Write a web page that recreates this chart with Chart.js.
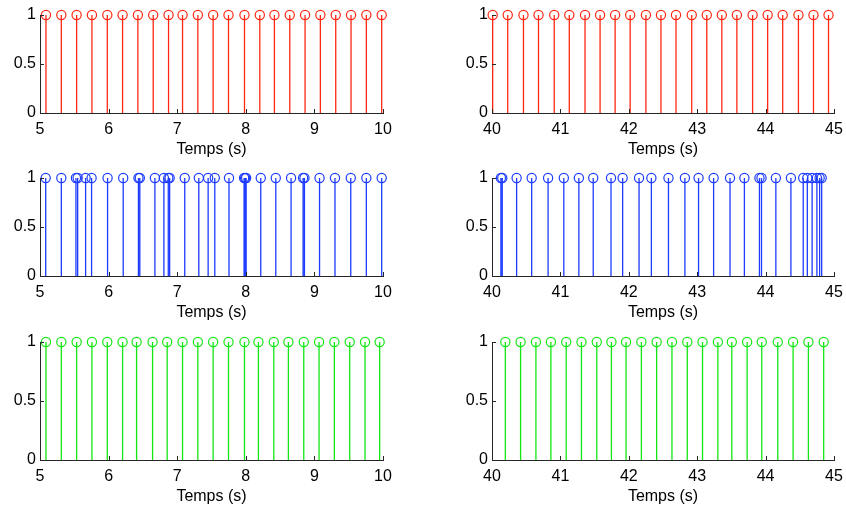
<!DOCTYPE html>
<html><head><meta charset="utf-8">
<script src="https://cdn.jsdelivr.net/npm/chart.js@4.4.1/dist/chart.umd.min.js"></script>
<style>
html,body{margin:0;padding:0;background:#fff}
body{width:846px;height:509px;position:relative;overflow:hidden}
canvas{position:absolute}
</style></head><body>
<canvas id="c0" width="393" height="161" style="left:0px;top:0px;width:393px;height:161px"></canvas>
<canvas id="c1" width="392" height="161" style="left:452px;top:0px;width:392px;height:161px"></canvas>
<canvas id="c2" width="393" height="161" style="left:0px;top:163px;width:393px;height:161px"></canvas>
<canvas id="c3" width="392" height="161" style="left:452px;top:163px;width:392px;height:161px"></canvas>
<canvas id="c4" width="393" height="181" style="left:0px;top:327px;width:393px;height:181px"></canvas>
<canvas id="c5" width="392" height="181" style="left:452px;top:327px;width:392px;height:181px"></canvas>
<script>
// ---- data (times in seconds of each pulse) ----
const redLeft = [5.087, 5.311, 5.534, 5.757, 5.981, 6.204, 6.427, 6.650, 6.874, 7.078, 7.301, 7.524,
                 7.748, 7.981, 8.204, 8.417, 8.641, 8.864, 9.087, 9.311, 9.534, 9.757, 9.981];
const redRight = [40.01, 40.23, 40.46, 40.68, 40.91, 41.13, 41.36, 41.58, 41.80, 42.02, 42.25, 42.47,
                  42.69, 42.92, 43.14, 43.36, 43.58, 43.81, 44.03, 44.25, 44.48, 44.70, 44.92];
const blueLeft = [5.083, 5.311, 5.524, 5.549, 5.665, 5.752, 5.985, 6.213, 6.435, 6.455, 6.675, 6.806,
                  6.870, 6.890, 7.110, 7.315, 7.451, 7.548, 7.755, 7.975, 7.990, 8.005, 8.218, 8.437,
                  8.660, 8.835, 8.855, 9.075, 9.300, 9.530, 9.757, 9.981];
const blueRight = [40.13, 40.15, 40.36, 40.58, 40.82, 41.05, 41.27, 41.48, 41.74, 41.91, 42.15, 42.33,
                   42.58, 42.82, 43.02, 43.24, 43.48, 43.69, 43.91, 43.94, 44.15, 44.37, 44.55, 44.61,
                   44.68, 44.75, 44.79, 44.82];
const greenLeft = [5.087, 5.311, 5.534, 5.757, 5.981, 6.204, 6.408, 6.641, 6.854, 7.078, 7.301, 7.524,
                   7.748, 7.981, 8.184, 8.408, 8.621, 8.845, 9.068, 9.291, 9.515, 9.738, 9.951];
const greenRight = [40.195, 40.418, 40.642, 40.861, 41.085, 41.308, 41.532, 41.746, 41.960, 42.184, 42.407,
                    42.631, 42.855, 43.078, 43.302, 43.506, 43.730, 43.944, 44.178, 44.402, 44.626, 44.849];
const pulseAmplitude = 1;
const xTicksLeft = [5, 6, 7, 8, 9, 10];
const xTicksRight = [40, 41, 42, 43, 44, 45];
const yTicks = [0, 0.5, 1];
const xTitle = 'Temps (s)';

const FONT = {family: '"Liberation Sans", Arial, Helvetica, sans-serif', size: 16};
const AXIS_COLOR = '#262626';

const inwardTicks = {
  id: 'inwardTicks',
  afterDraw(chart) {
    const ctx = chart.ctx, xs = chart.scales.x, ys = chart.scales.y;
    const a = chart.chartArea;
    ctx.save();
    ctx.strokeStyle = AXIS_COLOR;
    ctx.lineWidth = 1;
    ctx.beginPath();
    xs.ticks.forEach(t => {
      const px = Math.round(xs.getPixelForValue(t.value)) + 0.5;
      ctx.moveTo(px, a.bottom);
      ctx.lineTo(px, a.bottom - 4);
    });
    ys.ticks.forEach(t => {
      const py = Math.round(ys.getPixelForValue(t.value)) + 0.5;
      ctx.moveTo(a.left, py);
      ctx.lineTo(a.left + 4, py);
    });
    ctx.stroke();
    ctx.restore();
  }
};

function makeChart(id, times, color, xTicks) {
  const stems = [];
  times.forEach(t => {
    stems.push({x: t, y: 0}, {x: t, y: pulseAmplitude}, {x: t, y: null});
  });
  const heads = times.map(t => ({x: t, y: pulseAmplitude}));
  return new Chart(document.getElementById(id), {
    type: 'scatter',
    data: {datasets: [
      {type: 'line', data: stems, borderColor: color, borderWidth: 1.3, pointRadius: 0,
       spanGaps: false, fill: false, tension: 0, clip: false},
      {type: 'scatter', data: heads, borderColor: color, backgroundColor: 'rgba(0,0,0,0)',
       pointRadius: 4.6, pointBorderWidth: 1.2, pointStyle: 'circle', clip: false}
    ]},
    options: {
      responsive: false, animation: false, events: [],
      layout: {padding: {top: 15, right: 10, left: 0, bottom: 0}},
      plugins: {legend: {display: false}, tooltip: {enabled: false}},
      scales: {
        x: {
          type: 'linear', min: xTicks[0], max: xTicks[xTicks.length - 1], offset: false,
          grid: {display: false, drawTicks: false},
          border: {display: true, color: AXIS_COLOR, width: 1},
          ticks: {padding: 7, color: '#000', font: FONT, maxRotation: 0, autoSkip: false,
                  callback: v => String(v)},
          afterBuildTicks: s => { s.ticks = xTicks.map(v => ({value: v})); },
          afterFit: s => { s.height = 48; s.paddingLeft = 0; s.paddingRight = 0; },
          title: {display: true, text: xTitle, color: '#000', font: FONT, padding: {top: 0, bottom: 2}}
        },
        y: {
          type: 'linear', min: 0, max: 1,
          grid: {display: false, drawTicks: false},
          border: {display: true, color: AXIS_COLOR, width: 1},
          ticks: {padding: 4, color: '#000', font: FONT, callback: v => String(v)},
          afterBuildTicks: s => { s.ticks = yTicks.map(v => ({value: v})); },
          afterFit: s => { s.width = 40; s.paddingTop = 0; s.paddingBottom = 0; }
        }
      }
    },
    plugins: [inwardTicks]
  });
}

const RED = 'rgb(255,40,20)', BLUE = 'rgb(30,60,255)', GREEN = 'rgb(20,230,20)';
makeChart('c0', redLeft, RED, xTicksLeft);
makeChart('c1', redRight, RED, xTicksRight);
makeChart('c2', blueLeft, BLUE, xTicksLeft);
makeChart('c3', blueRight, BLUE, xTicksRight);
makeChart('c4', greenLeft, GREEN, xTicksLeft);
makeChart('c5', greenRight, GREEN, xTicksRight);
</script>
</body></html>
